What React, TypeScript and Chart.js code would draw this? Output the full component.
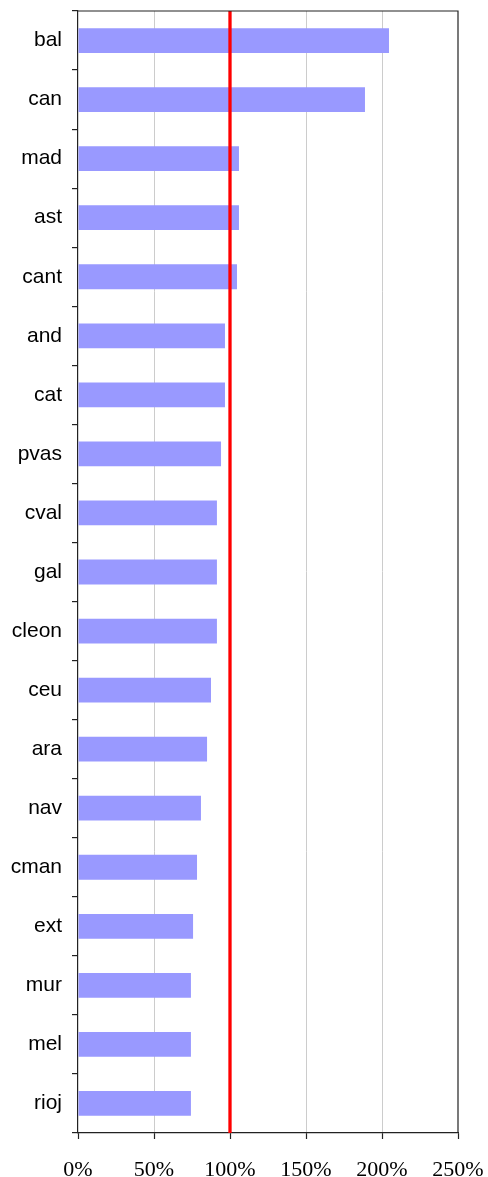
import React, { useEffect, useRef } from "react";
import { Chart, registerables } from "chart.js";

Chart.register(...registerables);

const categories = ["bal", "can", "mad", "ast", "cant", "and", "cat", "pvas", "cval", "gal", "cleon", "ceu", "ara", "nav", "cman", "ext", "mur", "mel", "rioj"];
const values = [204.6, 188.8, 105.9, 105.9, 104.6, 96.7, 96.7, 94.1, 91.4, 91.4, 91.4, 87.5, 84.9, 80.9, 78.3, 75.7, 74.3, 74.3, 74.3];
const referenceValue = 100;
const xMin = 0;
const xMax = 250;
const xStep = 50;

const framePlugin = {
  id: "frameAndRef",
  afterDatasetsDraw(chart: any) {
    const { ctx, chartArea, scales } = chart;
    const x = scales.x.getPixelForValue(referenceValue);
    ctx.save();
    ctx.strokeStyle = "#ff0000";
    ctx.lineWidth = 3.3;
    ctx.beginPath();
    ctx.moveTo(x, chartArea.top);
    ctx.lineTo(x, chartArea.bottom);
    ctx.stroke();
    ctx.strokeStyle = "#222222";
    ctx.lineWidth = 1.2;
    ctx.beginPath();
    ctx.moveTo(chartArea.left, chartArea.top);
    ctx.lineTo(chartArea.right, chartArea.top);
    ctx.lineTo(chartArea.right, chartArea.bottom);
    ctx.stroke();
    ctx.restore();
  },
};

export default function App() {
  const ref = useRef<HTMLCanvasElement>(null);
  useEffect(() => {
    document.body.style.margin = "0";
    const chart = new Chart(ref.current!, {
      type: "bar",
      data: {
        labels: categories,
        datasets: [
          {
            data: values,
            backgroundColor: "#9999ff",
            borderWidth: 0,
            barPercentage: 0.42,
            categoryPercentage: 1,
          },
        ],
      },
      options: {
        indexAxis: "y",
        animation: false,
        responsive: false,
        maintainAspectRatio: false,
        layout: { padding: { top: 11, right: 30, left: 0, bottom: 0 } },
        plugins: { legend: { display: false }, tooltip: { enabled: false } },
        scales: {
          y: {
            type: "category",
            offset: true,
            afterFit(scale: any) {
              scale.width = 78;
              scale.paddingTop = 0;
              scale.paddingBottom = 0;
            },
            grid: {
              offset: true,
              drawOnChartArea: false,
              tickLength: 6,
              color: "#222222",
              lineWidth: 1.2,
            },
            border: { color: "#222222", width: 1.2 },
            ticks: {
              color: "#000000",
              padding: 10,
              font: { family: "'Liberation Sans', Arial, sans-serif", size: 21 },
            },
          },
          x: {
            type: "linear",
            min: xMin,
            max: xMax,
            afterFit(scale: any) {
              scale.height = 44;
              scale.paddingLeft = 0;
              scale.paddingRight = 0;
            },
            grid: {
              color: (c: any) => (c.tick && (c.tick.value === xMin || c.tick.value === xMax) ? "rgba(0,0,0,0)" : "#cccccc"),
              lineWidth: 1,
              tickLength: 6,
              tickColor: "#222222",
              tickWidth: 1.2,
            },
            border: { color: "#222222", width: 1.2 },
            ticks: {
              stepSize: xStep,
              color: "#000000",
              padding: 18,
              maxRotation: 0,
              font: { family: "'Liberation Serif', 'Times New Roman', serif", size: 22 },
              callback: (v: any) => `${v}%`,
            },
          },
        },
      },
      plugins: [framePlugin],
    });
    return () => chart.destroy();
  }, []);
  return (
    <div style={{ width: 488, height: 1177 }}>
      <canvas ref={ref} width={488} height={1177} style={{ display: "block" }} />
    </div>
  );
}
